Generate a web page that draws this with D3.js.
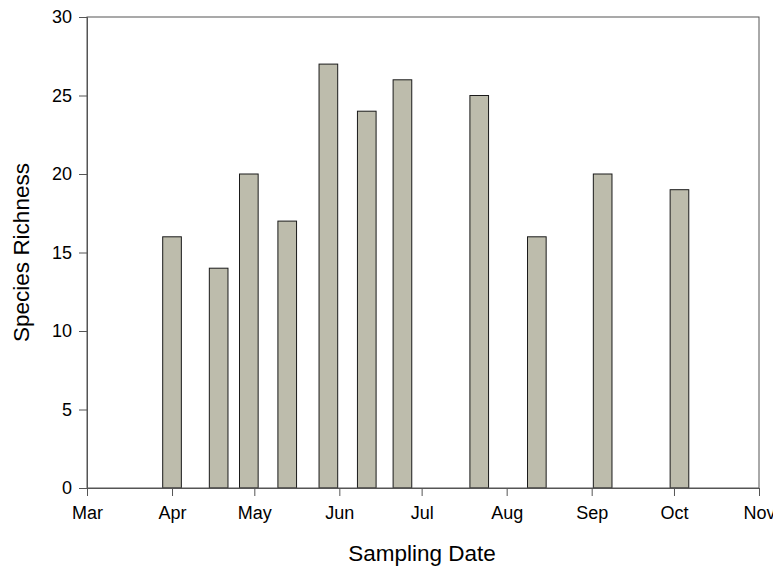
<!doctype html>
<html lang="en">
<head>
<meta charset="utf-8">
<title>Species Richness by Sampling Date</title>
<script src="https://cdn.jsdelivr.net/npm/d3@7"></script>
<style>
  body { margin: 0; background: #fff; }
  text { font-family: "Liberation Sans", Arial, sans-serif; fill: #000; }
</style>
</head>
<body>
<script>
    // sampling dates and species counts
    var dates = ["2005-04-01", "2005-04-18", "2005-04-29", "2005-05-13", "2005-05-28",
                 "2005-06-11", "2005-06-24", "2005-07-22", "2005-08-12", "2005-09-05", "2005-10-03"];
    var richness = [16, 14, 20, 17, 27, 24, 26, 25, 16, 20, 19];
    var yTicks = [0, 5, 10, 15, 20, 25, 30];

    var parse = d3.timeParse("%Y-%m-%d");
    var data = dates.map(function(d, i){ return {date: parse(d), value: richness[i]}; });

    var W = 773, H = 571;
    var pLeft = 87, pTop = 17, pRight = 759, pBottom = 488;

    var svg = d3.select("body").append("svg")
            .attr("width", W).attr("height", H);

    var x = d3.scaleTime()
            .domain([new Date(2005, 2, 1), new Date(2005, 10, 1)])
            .range([pLeft, pRight]);
    var y = d3.scaleLinear().domain([0, 30]).range([pBottom, pTop]);

    var halfDay = 3.4 * 24 * 3600 * 1000;

    // bars
    svg.append("g").selectAll("rect")
        .data(data)
        .enter().append("rect")
        .attr("x", function(d){ return x(new Date(+d.date - halfDay)); })
        .attr("width", function(d){ return x(new Date(+d.date + halfDay)) - x(new Date(+d.date - halfDay)); })
        .attr("y", function(d){ return y(d.value); })
        .attr("height", function(d){ return y(0) - y(d.value); })
        .attr("fill", "#bdbcac")
        .attr("stroke", "#1a1a1a")
        .attr("stroke-width", 1);

    // frame
    svg.append("rect")
        .attr("x", pLeft).attr("y", pTop)
        .attr("width", pRight - pLeft).attr("height", pBottom - pTop)
        .attr("fill", "none").attr("stroke", "#555").attr("stroke-width", 1);

    var xAxis = d3.axisBottom(x)
            .ticks(d3.timeMonth.every(1))
            .tickFormat(d3.timeFormat("%b"))
            .tickSize(8).tickPadding(10);
    var gx = svg.append("g").attr("transform", "translate(0," + pBottom + ")").call(xAxis);

    var yAxis = d3.axisLeft(y).tickValues(yTicks).tickSize(8).tickPadding(7);
    var gy = svg.append("g").attr("transform", "translate(" + pLeft + ",0)").call(yAxis);

    [gx, gy].forEach(function(g){
        g.select(".domain").attr("stroke", "#555");
        g.selectAll(".tick line").attr("stroke", "#555");
        g.selectAll(".tick text").style("font-size", "18px")
            .style("font-family", "'Liberation Sans', Arial, sans-serif");
    });

    svg.append("text")
        .attr("x", (pLeft + pRight) / 2 - 1).attr("y", 561)
        .attr("text-anchor", "middle")
        .style("font-size", "22.5px")
        .text("Sampling Date");

    svg.append("text")
        .attr("transform", "translate(29," + ((pTop + pBottom) / 2) + ") rotate(-90)")
        .attr("text-anchor", "middle")
        .style("font-size", "22.5px")
        .text("Species Richness");
</script>
</body>
</html>
